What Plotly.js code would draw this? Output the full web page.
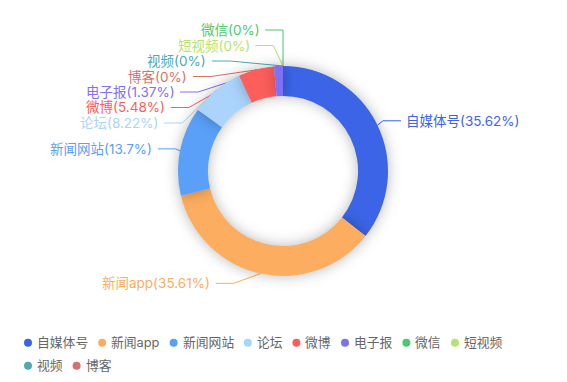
<!DOCTYPE html>
<html>
<head>
<meta charset="utf-8">
<script src="https://cdn.plot.ly/plotly-3.0.1.min.js"></script>
<style>
  html, body { margin: 0; padding: 0; background: #ffffff; }
  #chart { width: 567px; height: 382px; }
  .pielayer path.surface { filter: drop-shadow(0px 0px 7px rgba(0,0,0,0.28)); }
</style>
</head>
<body>
<div id="chart"></div>
<script>
// ---- data ----
const categories = ['自媒体号', '新闻app', '新闻网站', '论坛', '微博', '电子报', '微信', '短视频', '视频', '博客'];
const values = [35.62, 35.61, 13.7, 8.22, 5.48, 1.37, 0, 0, 0, 0];
const colors = ['#3b64e7', '#fdad5f', '#5aa0f8', '#abd4fc', '#fc5e5b', '#7f70f8', '#4cc86e', '#b5e46f', '#4caab5', '#d4736e'];

// ---- geometry / style ----
const W = 567, H = 382;
const FONT = "Inter, 'Noto Sans CJK SC', sans-serif";
const cx = 283, cy = 171, R = 105, HOLE = 0.715;
const LEN1 = 10, LEN2 = 18, TEXTGAP = 5.5, LINEH = 15.5, LABELFS = 13.5;
const RA = 109, RB = 126, TOPB = 30, BOTB = 330;

const px = x => x / W;
const py = y => 1 - y / H;

const total = values.reduce((a, b) => a + b, 0);

// ---- label layout (derived from slice angles) ----
let cum = 0;
const items = values.map((v, i) => {
  const mid = (cum + v / 2) / total * 2 * Math.PI;
  cum += v;
  const s = Math.sin(mid), c = Math.cos(mid);
  const side = (mid >= Math.PI - 1e-9) ? -1 : 1;
  const pct = Number((v / total * 100).toFixed(2));
  return {
    i, side,
    ex: cx + R * s, ey: cy - R * c,
    ny: cy - (R + LEN1) * c,
    text: categories[i] + '(' + pct + '%)'
  };
});

function layoutSide(list) {
  list.sort((a, b) => a.ny - b.ny);
  const cl = list.map(it => ({ m: [it] }));
  function place(g) {
    let s = 0;
    g.m.forEach((it, k) => { s += it.ny - k * LINEH; });
    let t = s / g.m.length;
    t = Math.max(TOPB, Math.min(t, BOTB - (g.m.length - 1) * LINEH));
    g.top = t;
  }
  cl.forEach(place);
  let merged = true;
  while (merged) {
    merged = false;
    for (let k = 0; k < cl.length - 1; k++) {
      const a = cl[k], b = cl[k + 1];
      if (a.top + a.m.length * LINEH > b.top + 1e-9) {
        a.m = a.m.concat(b.m);
        cl.splice(k + 1, 1);
        place(a);
        merged = true;
        break;
      }
    }
  }
  cl.forEach(g => g.m.forEach((it, k) => { it.y = g.top + k * LINEH; }));
}
layoutSide(items.filter(it => it.side < 0));
layoutSide(items.filter(it => it.side > 0));

const shapes = [];
const annotations = [];
items.forEach(it => {
  const dy = Math.abs(it.y - cy);
  const dx = RA * Math.sqrt(Math.max(0, 1 - (dy * dy) / (RB * RB)));
  const x2 = cx + it.side * dx;
  const x3 = x2 + it.side * LEN2;
  const col = colors[it.i];
  shapes.push({
    type: 'path', xref: 'paper', yref: 'paper', layer: 'below',
    path: `M${px(it.ex)},${py(it.ey)} L${px(x2)},${py(it.y)} L${px(x3)},${py(it.y)}`,
    line: { color: col, width: 1 }
  });
  annotations.push({
    xref: 'paper', yref: 'paper', x: px(x3), y: py(it.y),
    xanchor: it.side < 0 ? 'right' : 'left', yanchor: 'middle',
    xshift: it.side * TEXTGAP, showarrow: false, borderpad: 0, borderwidth: 0,
    text: it.text, font: { family: FONT, size: LABELFS, color: col }
  });
});

// ---- legend (dots + names) ----
const ctx = document.createElement('canvas').getContext('2d');
const LFS = 12.8;
ctx.font = LFS + 'px ' + FONT;
let lx = 24, ly = 342.7;
const ROWH = 23, MAXX = 530, ICON = 8, ICONGAP = 5, ITEMGAP = 10;
categories.forEach((name, i) => {
  const tw = ctx.measureText(name).width;
  const iw = ICON + ICONGAP + tw;
  if (lx + iw > MAXX && lx > 24) { lx = 24; ly += ROWH; }
  shapes.push({
    type: 'circle', xref: 'paper', yref: 'paper', layer: 'above',
    x0: px(lx), x1: px(lx + ICON), y0: py(ly + ICON / 2), y1: py(ly - ICON / 2),
    fillcolor: colors[i], line: { width: 0 }
  });
  annotations.push({
    xref: 'paper', yref: 'paper', x: px(lx + ICON + ICONGAP), y: py(ly),
    xanchor: 'left', yanchor: 'middle', showarrow: false, borderpad: 0, borderwidth: 0,
    text: name, font: { family: FONT, size: LFS, color: '#666666' }
  });
  lx += iw + ITEMGAP;
});

const trace = {
  type: 'pie',
  labels: categories,
  values: values,
  marker: { colors: colors, line: { width: 0 } },
  hole: HOLE,
  sort: false,
  direction: 'clockwise',
  rotation: 0,
  textinfo: 'none',
  hoverinfo: 'label+percent',
  domain: { x: [px(cx - R), px(cx + R)], y: [py(cy + R), py(cy - R)] }
};

const layout = {
  width: W, height: H,
  margin: { l: 0, r: 0, t: 0, b: 0 },
  paper_bgcolor: '#ffffff',
  showlegend: false,
  font: { family: FONT },
  shapes: shapes,
  annotations: annotations
};

Plotly.newPlot('chart', [trace], layout, { displayModeBar: false, staticPlot: true });
</script>
</body>
</html>
